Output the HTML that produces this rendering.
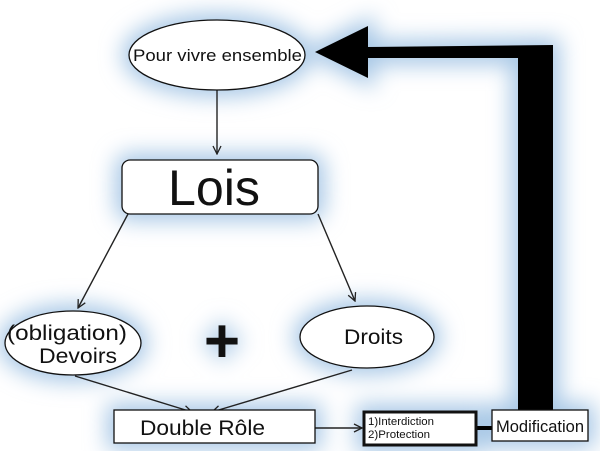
<!DOCTYPE html>
<html><head><meta charset="utf-8"><style>
html,body{margin:0;padding:0;background:#fff;}
svg{display:block;font-family:"Liberation Sans",sans-serif;}
</style></head><body>
<svg width="600" height="451" viewBox="0 0 600 451" xmlns="http://www.w3.org/2000/svg">
<defs>
<filter id="g" x="-40%" y="-40%" width="180%" height="180%">
<feGaussianBlur stdDeviation="11"/>
</filter>
<marker id="a" markerWidth="10" markerHeight="10" refX="9" refY="5" orient="auto" markerUnits="userSpaceOnUse">
<path d="M1,1 L9,5 L1,9" fill="none" stroke="#222" stroke-width="1.3"/>
</marker>
</defs>
<rect width="600" height="451" fill="#fff"/>
<g filter="url(#g)" fill="#a8c8e6" stroke="#a8c8e6" stroke-width="14">
<ellipse cx="217" cy="55" rx="88" ry="35"/>
<rect x="122" y="160" width="196" height="54" rx="8"/>
<ellipse cx="73" cy="343" rx="68" ry="32"/>
<ellipse cx="367" cy="337" rx="67" ry="31"/>
<rect x="114" y="410" width="201" height="33"/>
<rect x="363" y="411" width="114" height="35"/>
<rect x="492" y="410" width="96" height="31"/>
<rect x="518" y="48" width="35" height="362"/>
<polygon points="553,45 368,47 368,26 315,52 368,78 368,58 553,58"/>
<text x="222" y="362" font-size="62" font-weight="bold" text-anchor="middle" stroke-width="6">+</text>
</g>
<g stroke="#222" stroke-width="1.4" fill="none">
<line x1="217" y1="90" x2="217" y2="154" marker-end="url(#a)"/>
<line x1="128" y1="214" x2="78" y2="308" marker-end="url(#a)"/>
<line x1="318" y1="214" x2="355" y2="301" marker-end="url(#a)"/>
<line x1="75" y1="376" x2="192" y2="412" marker-end="url(#a)"/>
<line x1="352" y1="370" x2="212" y2="412" marker-end="url(#a)"/>
<line x1="315" y1="428" x2="362" y2="428" marker-end="url(#a)"/>
</g>
<rect x="518" y="48" width="35" height="362" fill="#000"/>
<polygon points="553,45 368,47 368,26 315,52 368,78 368,58 553,58" fill="#000"/>
<line x1="477" y1="428" x2="492" y2="428" stroke="#000" stroke-width="4"/>
<g fill="#fff" stroke="#111" stroke-width="1.3">
<ellipse cx="217" cy="55" rx="88" ry="35"/>
<rect x="122" y="160" width="196" height="54" rx="8"/>
<ellipse cx="73" cy="343" rx="68" ry="32"/>
<ellipse cx="367" cy="337" rx="67" ry="31"/>
<rect x="114" y="410" width="201" height="33"/>
<rect x="492" y="410" width="96" height="31"/>
<rect x="364" y="412" width="112" height="33" stroke-width="3"/>
</g>
<g fill="#111">
<text x="133" y="61" font-size="17" textLength="169" lengthAdjust="spacingAndGlyphs">Pour vivre ensemble</text>
<text x="168" y="205" font-size="50" textLength="92" lengthAdjust="spacingAndGlyphs">Lois</text>
<text x="7" y="340" font-size="21" textLength="120" lengthAdjust="spacingAndGlyphs">(obligation)</text>
<text x="39" y="363" font-size="21" textLength="78" lengthAdjust="spacingAndGlyphs">Devoirs</text>
<text x="344" y="344" font-size="21" textLength="59" lengthAdjust="spacingAndGlyphs">Droits</text>
<text x="140" y="435" font-size="21" textLength="125" lengthAdjust="spacingAndGlyphs">Double Rôle</text>
<text x="368" y="425" font-size="11" textLength="66" lengthAdjust="spacingAndGlyphs">1)Interdiction</text>
<text x="368" y="438" font-size="11" textLength="62" lengthAdjust="spacingAndGlyphs">2)Protection</text>
<text x="496" y="432" font-size="17" textLength="88" lengthAdjust="spacingAndGlyphs">Modification</text>
<text x="222" y="362" font-size="62" font-weight="bold" text-anchor="middle">+</text>
</g>
</svg>
</body></html>
